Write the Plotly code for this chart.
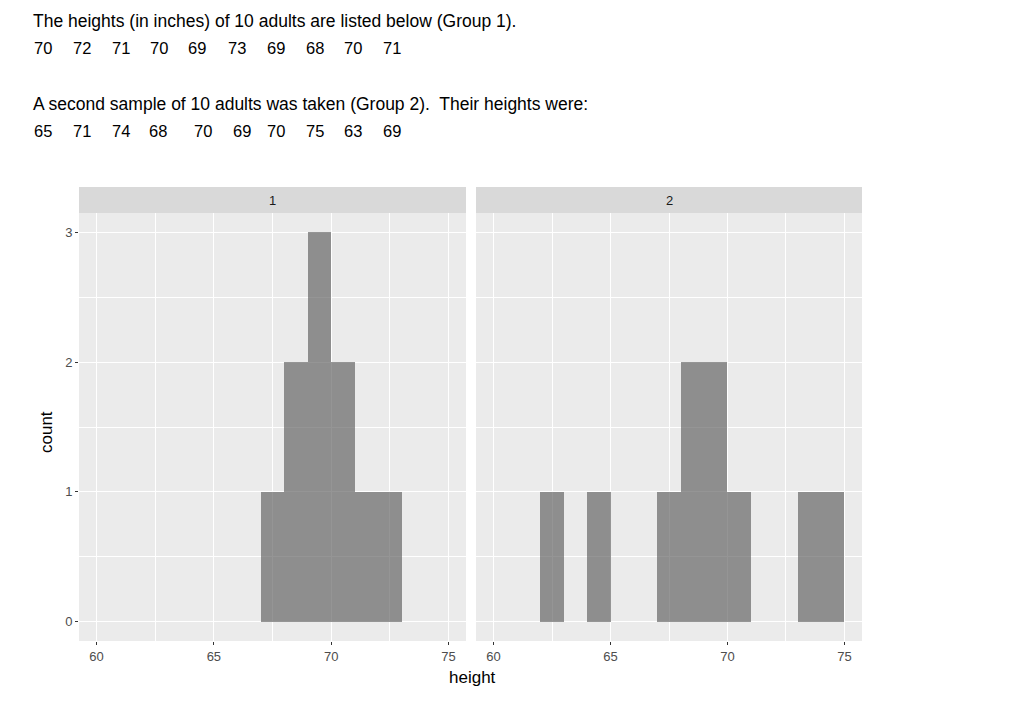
from collections import Counter
import plotly.graph_objects as go

# heights (inches) of the two samples
group1 = [70, 72, 71, 70, 69, 73, 69, 68, 70, 71]
group2 = [65, 71, 74, 68, 70, 69, 70, 75, 63, 69]
facet_labels = ['1', '2']
x_ticks = [60, 65, 70, 75]
y_ticks = [0, 1, 2, 3]

header_1 = "The heights (in inches) of 10 adults are listed below (Group 1)."
header_2 = "A second sample of 10 adults was taken (Group 2).  Their heights were:"

W, H = 1024, 711
OFF = 8  # page body margin in the browser
FONT = "Liberation Sans, Arial, sans-serif"
BG = '#EBEBEB'
BAR = 'rgba(89,89,89,0.64)'


def px_x(v):
    return (v - OFF) / W


def px_y(v):
    return 1 - (v - OFF) / H


fig = go.Figure()

# histogram bars, bins of width 1 closed on the right: (v-1, v]
for i, grp in enumerate([group1, group2]):
    counts = Counter(grp)
    vals = sorted(counts)
    fig.add_trace(go.Bar(
        x=[v - 0.5 for v in vals],
        y=[counts[v] for v in vals],
        width=1,
        marker=dict(color=BAR, line=dict(width=0)),
        xaxis='x' if i == 0 else 'x2',
        yaxis='y' if i == 0 else 'y2',
        showlegend=False,
        hoverinfo='skip',
    ))

panels = [(79, 466), (476, 862)]
panel_top, panel_bot = 213, 641
strip_top = 187

axis_common = dict(
    showline=False, zeroline=False,
    gridcolor='white', gridwidth=1.1,
    ticks='outside', ticklen=3, tickwidth=1, tickcolor='#333333',
    tickfont=dict(family=FONT, size=13, color='#4D4D4D'),
)

layout = dict(
    width=W, height=H,
    margin=dict(l=0, r=0, t=0, b=0),
    paper_bgcolor='white', plot_bgcolor=BG,
    bargap=0, barmode='overlay',
    font=dict(family=FONT),
)

for i, (x0, x1) in enumerate(panels):
    sfx = '' if i == 0 else str(i + 1)
    layout['xaxis' + sfx] = dict(
        axis_common,
        domain=[px_x(x0), px_x(x1)],
        range=[59.25, 75.75],
        tickvals=x_ticks,
        minor=dict(dtick=2.5, tick0=60, showgrid=True,
                   gridcolor='white', gridwidth=0.5, ticks=''),
        anchor='y' + sfx,
        fixedrange=True,
    )
    layout['yaxis' + sfx] = dict(
        axis_common,
        domain=[px_y(panel_bot), px_y(panel_top)],
        range=[-0.15, 3.15],
        tickvals=y_ticks,
        showticklabels=(i == 0),
        ticks='outside' if i == 0 else '',
        minor=dict(dtick=0.5, tick0=0, showgrid=True,
                   gridcolor='white', gridwidth=0.5, ticks=''),
        anchor='x' + sfx,
        fixedrange=True,
    )

fig.update_layout(**layout)

# facet strips
for (x0, x1), lab in zip(panels, facet_labels):
    fig.add_shape(type='rect', xref='paper', yref='paper',
                  x0=px_x(x0), x1=px_x(x1),
                  y0=px_y(panel_top), y1=px_y(strip_top),
                  fillcolor='#D9D9D9', line=dict(width=0), layer='below')
    fig.add_annotation(text=lab, xref='paper', yref='paper',
                       x=px_x((x0 + x1) / 2), y=px_y((strip_top + panel_top) / 2),
                       showarrow=False, xanchor='center', yanchor='middle',
                       font=dict(family=FONT, size=13, color='#1A1A1A'))

# axis titles
fig.add_annotation(text='height', xref='paper', yref='paper',
                   x=px_x(472), y=px_y(677), showarrow=False,
                   xanchor='center', yanchor='middle',
                   font=dict(family=FONT, size=17, color='black'))
fig.add_annotation(text='count', xref='paper', yref='paper',
                   x=px_x(46), y=px_y(432), showarrow=False, textangle=-90,
                   xanchor='center', yanchor='middle',
                   font=dict(family=FONT, size=17, color='black'))

# header text above the chart
num_x = [33, 72, 111, 149, 187, 227, 266, 305, 343, 382]
num_x2 = [33, 72, 111, 148, 193, 232, 266, 305, 343, 382]


def text_at(txt, x, y, size):
    fig.add_annotation(text=txt, xref='paper', yref='paper',
                       x=px_x(x), y=px_y(y), showarrow=False,
                       xanchor='left', yanchor='middle',
                       font=dict(family=FONT, size=size, color='black'))


text_at(header_1, 31, 21, 17.5)
for v, x in zip(group1, num_x):
    text_at(str(v), x - 1, 48, 16.5)
text_at(header_2, 31, 104, 17.5)
for v, x in zip(group2, num_x2):
    text_at(str(v), x - 1, 131, 16.5)

fig.write_html("out.html")
